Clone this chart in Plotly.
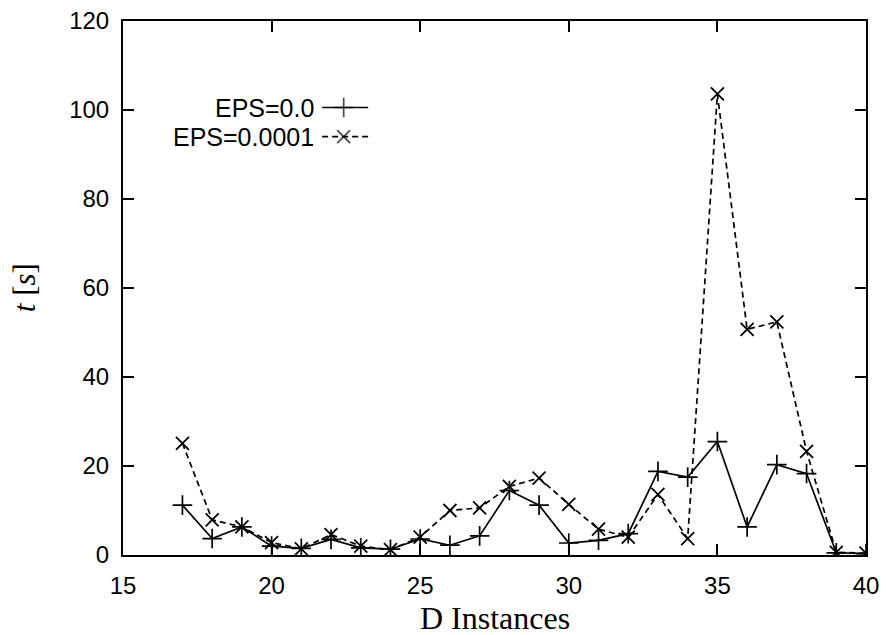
import plotly.graph_objects as go

instances = list(range(17, 41))
eps_0 = [11.2, 3.7, 6.3, 2.0, 1.5, 3.5, 1.6, 1.3, 3.6, 2.2, 4.3, 14.5, 11.2, 2.7,
         3.3, 4.8, 18.8, 17.5, 25.5, 6.3, 20.3, 18.3, 0.5, 0.3]
eps_1e4 = [25.1, 7.9, 6.3, 2.8, 1.4, 4.6, 2.0, 1.2, 4.0, 10.0, 10.6, 15.4, 17.3, 11.4,
           5.8, 4.0, 13.6, 3.7, 103.6, 50.7, 52.4, 23.3, 0.6, 0.4]
labels = ["EPS=0.0", "EPS=0.0001"]
x_ticks = [15, 20, 25, 30, 35, 40]
y_ticks = [0, 20, 40, 60, 80, 100, 120]

fig = go.Figure()
fig.add_trace(go.Scatter(
    x=instances, y=eps_0, mode="lines+markers", name=labels[0],
    line=dict(color="black", width=1.7),
    marker=dict(symbol="cross-thin-open", size=14, line=dict(color="black", width=1.7)),
    showlegend=False))
fig.add_trace(go.Scatter(
    x=instances, y=eps_1e4, mode="lines+markers", name=labels[1],
    line=dict(color="black", width=1.7, dash="6px,4px"),
    marker=dict(symbol="x-thin-open", size=13, line=dict(color="black", width=1.8)),
    showlegend=False))

# Gnuplot-style key drawn on an overlay axis spanning the plot area (0..1)
key_y = [0.838, 0.7835]
key_x = [0.268, 0.297, 0.330]
fig.add_trace(go.Scatter(
    x=key_x, y=[key_y[0]] * 3, xaxis="x2", yaxis="y2", mode="lines+markers",
    line=dict(color="black", width=1.7),
    marker=dict(symbol="cross-thin-open", size=[0, 14, 0], line=dict(color="black", width=1.7)),
    showlegend=False, hoverinfo="skip"))
fig.add_trace(go.Scatter(
    x=key_x, y=[key_y[1]] * 3, xaxis="x2", yaxis="y2", mode="lines+markers",
    line=dict(color="black", width=1.7, dash="6px,4px"),
    marker=dict(symbol="x-thin-open", size=[0, 13, 0], line=dict(color="black", width=1.8)),
    showlegend=False, hoverinfo="skip"))
for lab, ky in zip(labels, key_y):
    fig.add_annotation(x=0.258, y=ky, xref="x2", yref="y2", text=lab, showarrow=False,
                       xanchor="right", yanchor="middle", borderpad=0,
                       font=dict(family="Liberation Sans, Arial", size=25, color="black"))

# axis titles placed as annotations relative to the plot area
fig.add_annotation(x=0.5, y=-0.118, xref="paper", yref="paper", text="D Instances",
                   showarrow=False, xanchor="center", yanchor="middle",
                   font=dict(family="Liberation Serif, Times New Roman", size=32, color="black"))
fig.add_annotation(x=-0.133, y=0.5, xref="paper", yref="paper", text="<i>t</i> [<i>s</i>]",
                   showarrow=False, xanchor="center", yanchor="middle", textangle=-90,
                   font=dict(family="Liberation Serif, Times New Roman", size=31, color="black"))

axis_common = dict(
    showline=True, linecolor="black", linewidth=2, mirror="ticks",
    ticks="inside", ticklen=11, tickwidth=1.8, tickcolor="black",
    showgrid=False, zeroline=False, automargin=False,
    tickfont=dict(family="Liberation Sans, Arial", size=24, color="black"),
)
fig.update_layout(
    width=886, height=635,
    margin=dict(l=123, r=20, t=21, b=80),
    paper_bgcolor="white", plot_bgcolor="white",
    xaxis=dict(range=[15, 40], tickvals=x_ticks, ticklabelstandoff=8, **axis_common),
    yaxis=dict(range=[0, 120], tickvals=y_ticks, ticklabelstandoff=7, **axis_common),
    xaxis2=dict(range=[0, 1], overlaying="x", visible=False, fixedrange=True),
    yaxis2=dict(range=[0, 1], overlaying="y", visible=False, fixedrange=True),
)

fig.write_html("out.html")
